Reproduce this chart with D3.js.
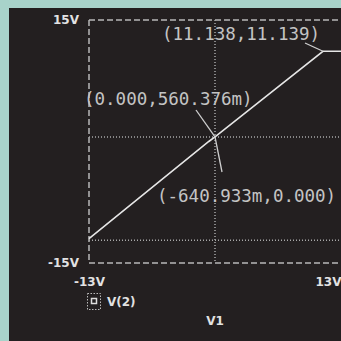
<!DOCTYPE html>
<html lang="en">
<head>
    <meta charset="UTF-8">
    <title>V(2) vs V1</title>
    <style>
        body { margin:0; background:#a8d3ca; }
        .tick text { font-family:'DejaVu Sans', sans-serif; font-weight:bold; font-size:12px; fill:#e2e2e2; }
        .cur { font-family:'DejaVu Sans Mono', monospace; font-size:17.5px; fill:#c4c4c4; }
        .lbl { font-family:'DejaVu Sans', sans-serif; font-weight:bold; font-size:12px; fill:#e2e2e2; }
    </style>
    <script src="https://d3js.org/d3.v7.min.js"></script>
</head>
<body>
<script>

// trace V(2) against sweep V1
var v1 = [-13, -0.641, 0, 11.138, 13];
var v2 = [-12.0, 0, 0.56, 11.139, 11.139];

var xTicks = [-13, 13];
var yTicks = [-15, 15];

// cursor readouts
var cursorLabels = ["(11.138,11.139)", "(0.000,560.376m)", "(-640.933m,0.000)"];
var cursorX = [0];
var cursorY = [0.56, -12.2];

var window_width = 341, window_height = 341;
var margin = {left:89, top:20, right:0, bottom:78};

var svg = d3.select("body").append("svg").attr("width", window_width).attr("height", window_height);
svg.append("rect").attr("x", 9).attr("y", 8).attr("width", window_width - 9).attr("height", window_height - 8).attr("fill", "#231f20");

var xScale = d3.scaleLinear().domain([-13, 13]).range([margin.left, window_width - margin.right]);
var yScale = d3.scaleLinear().domain([-15, 15]).range([window_height - margin.bottom, margin.top]);

// dashed frame
var frame = svg.append("g").attr("stroke", "#b8b8b8").attr("stroke-width", 1.5).attr("stroke-dasharray", "6,3").attr("fill", "none");
frame.append("line").attr("x1", xScale(-13)).attr("x2", window_width).attr("y1", yScale(15)).attr("y2", yScale(15));
frame.append("line").attr("x1", xScale(-13)).attr("x2", window_width).attr("y1", yScale(-15)).attr("y2", yScale(-15));
frame.append("line").attr("x1", xScale(-13)).attr("x2", xScale(-13)).attr("y1", yScale(15)).attr("y2", yScale(-15));

// cursor lines
var cur = svg.append("g").attr("stroke", "#a8a8a8").attr("stroke-width", 1.5).attr("stroke-dasharray", "1,2");
cur.selectAll(".cx").data(cursorX).enter().append("line")
    .attr("x1", function(d){ return xScale(d); }).attr("x2", function(d){ return xScale(d); })
    .attr("y1", yScale(15)).attr("y2", yScale(-15));
cur.selectAll(".cy").data(cursorY).enter().append("line")
    .attr("x1", xScale(-13)).attr("x2", window_width)
    .attr("y1", function(d){ return yScale(d); }).attr("y2", function(d){ return yScale(d); });

// trace
var pts = v1.map(function(d, i){ return [d, v2[i]]; });
var line = d3.line().x(function(p){ return xScale(p[0]); }).y(function(p){ return yScale(p[1]); });
svg.append("path").datum(pts).attr("d", line).attr("fill", "none").attr("stroke", "#e6e6e6").attr("stroke-width", 1.6);

// axes
var yAxis = svg.append("g").attr("transform", "translate(" + margin.left + ",0)")
    .call(d3.axisLeft(yScale).tickValues(yTicks).tickSize(0).tickPadding(10).tickFormat(function(d){ return d + "V"; }));
yAxis.select(".domain").remove();

var xAxis = svg.append("g").attr("transform", "translate(0," + yScale(-15) + ")")
    .call(d3.axisBottom(xScale).tickValues(xTicks).tickSize(0).tickPadding(14).tickFormat(function(d){ return d + "V"; }));
xAxis.select(".domain").remove();
xAxis.selectAll(".tick text").filter(function(d){ return d == 13; }).attr("text-anchor", "end");

// cursor readouts and leaders
var lead = svg.append("g").attr("stroke", "#cfcfcf").attr("stroke-width", 1.3);
lead.append("line").attr("x1", 305).attr("y1", 43).attr("x2", xScale(v1[3])).attr("y2", yScale(v2[3]));
lead.append("line").attr("x1", 196).attr("y1", 110).attr("x2", xScale(v1[2])).attr("y2", yScale(v2[2]));
lead.append("line").attr("x1", xScale(v1[2])).attr("y1", yScale(v2[2])).attr("x2", 222).attr("y2", 172);

svg.append("text").attr("class", "cur").attr("x", 162).attr("y", 40).text(cursorLabels[0]);
svg.append("text").attr("class", "cur").attr("x", 84).attr("y", 105).text(cursorLabels[1]);
svg.append("text").attr("class", "cur").attr("x", 157).attr("y", 202).text(cursorLabels[2]);

// legend
svg.append("rect").attr("x", 87.5).attr("y", 293.5).attr("width", 13).attr("height", 16)
    .attr("fill", "none").attr("stroke", "#bbb").attr("stroke-dasharray", "1.5,1.5");
svg.append("rect").attr("x", 91.5).attr("y", 298.5).attr("width", 5).attr("height", 5)
    .attr("fill", "none").attr("stroke", "#ddd").attr("stroke-width", 1.5);
svg.append("text").attr("class", "lbl").attr("x", 107).attr("y", 306).text("V(2)");
svg.append("text").attr("class", "lbl").attr("x", xScale(0)).attr("y", 325).attr("text-anchor", "middle").text("V1");

</script>
</body>
</html>
